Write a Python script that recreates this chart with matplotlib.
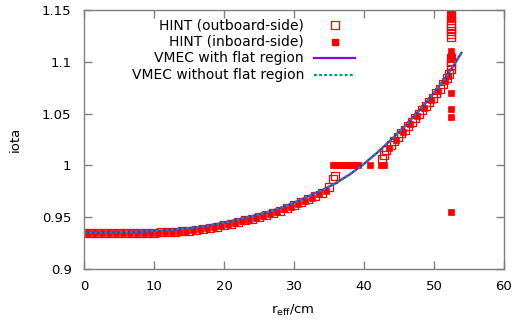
import matplotlib
matplotlib.use("Agg")
import matplotlib.pyplot as plt
from matplotlib.lines import Line2D

plt.rcParams['font.family'] = ['DejaVu Sans']

# VMEC iota profile (both VMEC runs practically coincide)
vmec_r = [0, 2, 4, 6, 8, 10, 12, 14, 16, 18, 20, 22, 24, 26, 28, 30, 32, 34,
          36, 38, 40, 42, 44, 46, 48, 50, 52, 54]
vmec_flat = [0.9350, 0.9351, 0.9353, 0.9356, 0.9360, 0.9366, 0.9375, 0.9387,
             0.9402, 0.9422, 0.9447, 0.9478, 0.9510, 0.9545, 0.9588, 0.9640,
             0.9700, 0.9760, 0.9830, 0.9915, 1.0015, 1.0130, 1.0255, 1.0390,
             1.0540, 1.0700, 1.0880, 1.1095]
vmec_noflat = [0.9350, 0.9351, 0.9353, 0.9356, 0.9360, 0.9366, 0.9375, 0.9387,
               0.9402, 0.9422, 0.9447, 0.9478, 0.9510, 0.9545, 0.9588, 0.9640,
               0.9700, 0.9760, 0.9830, 0.9915, 1.0015, 1.0130, 1.0255, 1.0390,
               1.0540, 1.0700, 1.0880, 1.1095]

# HINT outboard side (open squares)
out_r = [0, 1, 2, 3, 4, 5, 6, 7, 8, 9, 10, 11, 12, 13, 14, 15, 16, 17, 18, 19,
         20, 21, 22, 23, 24, 25, 26, 27, 28, 29, 30, 31, 32, 33, 34, 35, 35.5, 35.8,
         42.5, 42.8, 43.2, 43.8, 44.3, 44.8, 45.3, 45.8, 46.3, 46.8, 47.3, 47.8,
         48.3, 48.8, 49.3, 49.8, 50.3, 50.8, 51.3, 51.8, 52.2,
         52.4, 52.4, 52.4, 52.4, 52.4, 52.4, 52.4, 52.4, 52.4, 52.4, 52.4]
out_iota = [0.9350, 0.9349, 0.9348, 0.9347, 0.9346, 0.9347, 0.9346, 0.9346,
            0.9347, 0.9348, 0.9349, 0.9353, 0.9355, 0.9359, 0.9364, 0.9370,
            0.9377, 0.9387, 0.9397, 0.9410, 0.9422, 0.9438, 0.9453, 0.9469,
            0.9485, 0.9503, 0.9520, 0.9542, 0.9563, 0.9589, 0.9615, 0.9645,
            0.9675, 0.9705, 0.9735, 0.9790, 0.9870, 0.9900,
            1.0060, 1.0100, 1.0150, 1.0195, 1.0235, 1.0275, 1.0310, 1.0345,
            1.0380, 1.0420, 1.0460, 1.0495, 1.0535, 1.0575, 1.0615, 1.0655,
            1.0695, 1.0740, 1.0790, 1.0840, 1.0885,
            1.093, 1.097, 1.100, 1.104, 1.124, 1.127, 1.130, 1.133, 1.136,
            1.140, 1.145]

# HINT inboard side (filled squares)
in_r = [0.5, 1.5, 2.5, 3.5, 4.5, 5.5, 6.5, 7.5, 8.5, 9.5, 10.5, 11.5, 12.5,
        13.5, 14.5, 15.5, 16.5, 17.5, 18.5, 19.5, 20.5, 21.5, 22.5, 23.5, 24.5,
        25.5, 26.5, 27.5, 28.5, 29.5, 30.5, 31.5, 32.5, 33.5, 34.5,
        35.6, 36.0, 36.4, 36.8, 37.2, 37.6, 38.0, 38.4, 38.8, 39.2,
        40.9, 42.4, 42.8,
        43.5, 44.5, 45.5, 46.5, 47.5, 48.5, 49.5, 50.5, 51.5, 52.0,
        52.4, 52.4, 52.4, 52.4, 52.4, 52.4, 52.4, 52.4, 52.4, 52.4, 52.4]
in_iota = [0.9349, 0.9348, 0.9347, 0.9346, 0.9346, 0.9346, 0.9346, 0.9346,
           0.9347, 0.9349, 0.9351, 0.9354, 0.9357, 0.9361, 0.9366, 0.9373,
           0.9382, 0.9392, 0.9403, 0.9416, 0.9430, 0.9445, 0.9461, 0.9477,
           0.9494, 0.9511, 0.9530, 0.9552, 0.9576, 0.9602, 0.9630, 0.9660,
           0.9690, 0.9720, 0.9755,
           1.0, 1.0, 1.0, 1.0, 1.0, 1.0, 1.0, 1.0, 1.0, 1.0,
           1.0, 1.0, 1.0,
           1.0170, 1.0245, 1.0320, 1.0400, 1.0475, 1.0550, 1.0630, 1.0715,
           1.0810, 1.0860,
           0.9553, 1.0465, 1.0545, 1.0695, 1.104, 1.107, 1.110, 1.141, 1.145,
           1.149, 1.152]

x_ticks = [0, 10, 20, 30, 40, 50, 60]
y_ticks = [0.9, 0.95, 1.0, 1.05, 1.1, 1.15]
y_tick_labels = ['0.9', '0.95', '1', '1.05', '1.1', '1.15']
legend_labels = ['HINT (outboard-side)', 'HINT (inboard-side)',
                 'VMEC with flat region', 'VMEC without flat region']

RED = '#ff0000'
PURPLE = '#9400d3'
GREEN = '#009e73'
GREY = '#808080'
FS = 9.5

fig = plt.figure(figsize=(5.16, 3.22), dpi=100)
ax = fig.add_axes([84 / 516, 1 - 269 / 322, 420 / 516, 259 / 322])

ax.plot(out_r, out_iota, linestyle='none', marker='s', markersize=5.2,
        markerfacecolor='none', markeredgecolor=RED, markeredgewidth=0.9)
ax.plot(in_r, in_iota, linestyle='none', marker='s', markersize=5.0,
        markerfacecolor=RED, markeredgecolor=RED, markeredgewidth=0.5)
ax.plot(vmec_r, vmec_flat, color=PURPLE, lw=1.6, solid_capstyle='butt')
ax.plot(vmec_r, vmec_noflat, color=GREEN, lw=1.6, linestyle=(0, (1.3, 1.0)))

ax.set_xlim(0, 60)
ax.set_ylim(0.9, 1.15)
ax.set_xticks(x_ticks)
ax.set_xticklabels([str(t) for t in x_ticks])
ax.set_yticks(y_ticks)
ax.set_yticklabels(y_tick_labels)
ax.tick_params(direction='in', length=6, width=1, color=GREY,
               top=True, right=True, labelsize=FS, labelcolor='black')
ax.tick_params(axis='y', pad=9)
ax.tick_params(axis='x', pad=8)
for s in ax.spines.values():
    s.set_color(GREY)
    s.set_linewidth(1)

ax.set_ylabel('iota', fontsize=FS)
ax.yaxis.set_label_coords((15 - 84) / 420, 0.5)
ax.yaxis.label.set_va('center')
ax.set_xlabel(r'r$_{\mathrm{eff}}$/cm', fontsize=FS)
ax.xaxis.set_label_coords((293 - 84) / 420, -(313.5 - 269) / 259)
ax.xaxis.label.set_va('baseline')

# legend (gnuplot style: right-aligned text, sample on the right)
rows = [0.942, 0.878, 0.813, 0.749]
tx = 0.5238
for lab, yy in zip(legend_labels, rows):
    ax.text(tx, yy, lab, transform=ax.transAxes, ha='right', va='center',
            fontsize=10)
ax.add_line(Line2D([0.5976], [rows[0]], transform=ax.transAxes, marker='s',
                   markersize=5.2, markerfacecolor='none', markeredgecolor=RED,
                   markeredgewidth=0.9, linestyle='none', clip_on=False))
ax.add_line(Line2D([0.5976], [rows[1]], transform=ax.transAxes, marker='s',
                   markersize=5.0, markerfacecolor=RED, markeredgecolor=RED,
                   linestyle='none', clip_on=False))
ax.add_line(Line2D([0.5476, 0.6452], [rows[2], rows[2]], transform=ax.transAxes,
                   color=PURPLE, lw=1.6))
ax.add_line(Line2D([0.5476, 0.6452], [rows[3], rows[3]], transform=ax.transAxes,
                   color=GREEN, lw=1.6, linestyle=(0, (1.3, 1.0))))

fig.savefig('out.png', dpi=100)
